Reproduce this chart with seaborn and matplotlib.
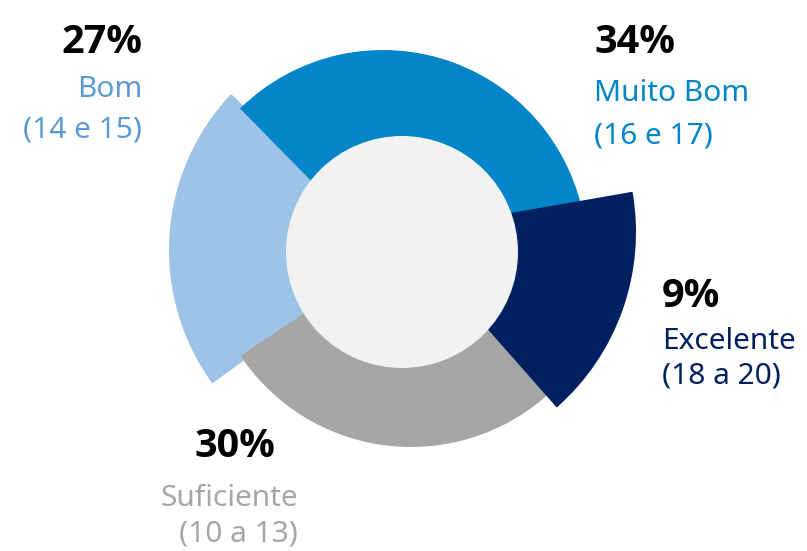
import matplotlib
matplotlib.use("Agg")
import matplotlib.pyplot as plt
from matplotlib.patches import Wedge, Circle
import seaborn as sns

# -------------------------------------------------
# Data
# -------------------------------------------------

categories = ["Muito Bom", "Excelente", "Suficiente", "Bom"]
ranges = ["(16 e 17)", "(18 a 20)", "(10 a 13)", "(14 e 15)"]
shares = [34, 9, 30, 27]

# -------------------------------------------------
# Style / layout (pixel units, y measured from top)
# -------------------------------------------------

W, H = 807, 551

seg_colors = ["#0285C9", "#00205F", "#A6A6A6", "#9DC3E6"]
text_colors = ["#0285C9", "#00205F", "#A6A6A6", "#5B9BD5"]

# apex x, apex y, radius, theta1, theta2, zorder
seg_geom = {
    "Muito Bom": (383, 254, 204, 5, 134.5, 3),
    "Excelente": (402, 232, 234, -48.6, 9.9, 4),
    "Suficiente": (411, 242, 205, 213.7, 325, 2),
    "Bom": (396, 250, 227, 136.6, 216, 1),
}

# x, anchor, baseline of percent / name / range
label_pos = {
    "Muito Bom": [(594, "left", 53), (594, "left", 101), (594, "left", 143)],
    "Excelente": [(662, "left", 307), (662, "left", 349), (662, "left", 384)],
    "Suficiente": [(235, "center", 457), (298, "right", 506), (298, "right", 542)],
    "Bom": [(142, "right", 53), (142, "right", 97), (142, "right", 138)],
}

sns.set_theme(style="white")
plt.rcParams["font.family"] = ["Noto Sans", "DejaVu Sans"]
PCT_FONT = ["Open Sans", "Roboto", "DejaVu Sans"]


def fy(y):
    return H - y


def main():

    fig = plt.figure(figsize=(W / 100, H / 100), dpi=100)
    ax = fig.add_axes([0, 0, 1, 1])
    ax.set_xlim(0, W)
    ax.set_ylim(0, H)
    ax.set_aspect("equal")
    ax.axis("off")

    for cat, share, rng, col, tcol in zip(categories, shares, ranges,
                                          seg_colors, text_colors):
        cx, cy, r, t1, t2, z = seg_geom[cat]
        ax.add_patch(Wedge((cx, fy(cy)), r, t1, t2, facecolor=col,
                           edgecolor="none", zorder=z))

        (px, pha, pyb), (nx, nha, nyb), (rx, rha, ryb) = label_pos[cat]
        ax.text(px, fy(pyb), f"{share}%", ha=pha, va="baseline",
                fontsize=28.5, fontweight="bold", color="black",
                family=PCT_FONT)
        ax.text(nx, fy(nyb), cat, ha=nha, va="baseline",
                fontsize=21.5, color=tcol)
        ax.text(rx, fy(ryb), rng, ha=rha, va="baseline",
                fontsize=21.5, color=tcol)

    ax.add_patch(Circle((402, fy(252)), 116, facecolor="#F2F2F2",
                        edgecolor="none", zorder=5))

    fig.savefig("out.png", dpi=100, facecolor="white")
    plt.close(fig)


if __name__ == "__main__":
    main()
